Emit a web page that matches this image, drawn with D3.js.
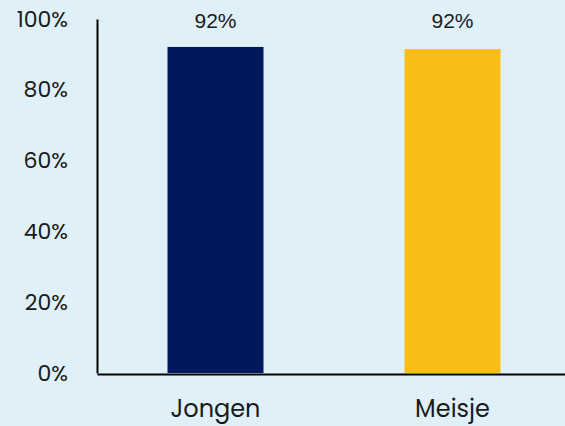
<!DOCTYPE html>
<html><head><meta charset="utf-8">
<script src="https://cdn.jsdelivr.net/npm/d3@7"></script>
<style>html,body{margin:0;padding:0;background:#e0f0f8;}svg{display:block;}</style>
</head><body>
<script>
const categories = ["Jongen", "Meisje"];
const values = [92.1, 91.5];
const valueLabels = ["92%", "92%"];
const yTicks = [0, 20, 40, 60, 80, 100];
const colors = ["#02185e", "#f9bd18"];

const W = 565, H = 426;
const svg = d3.select("body").append("svg").attr("width", W).attr("height", H);
svg.append("rect").attr("width", W).attr("height", H).attr("fill", "#e0f0f8");

const y = d3.scaleLinear().domain([0, 100]).range([373, 19]);
const x = d3.scaleBand().domain(categories).range([97, 571]).paddingInner(0.595).paddingOuter(0.2975);
const font = "Poppins, 'Open Sans', sans-serif";

svg.selectAll(".bar").data(categories).enter().append("rect")
  .attr("x", d => x(d)).attr("width", x.bandwidth())
  .attr("y", (d, i) => y(values[i])).attr("height", (d, i) => y(0) - y(values[i]))
  .attr("fill", (d, i) => colors[i]);

// y axis
const ya = svg.append("g").attr("transform", "translate(97,0)")
  .call(d3.axisLeft(y).tickValues(yTicks).tickFormat(d => d + "%").tickSize(0).tickPadding(29));
ya.select(".domain").attr("stroke", "#000").attr("stroke-width", 2);
ya.selectAll("text").attr("font-family", font).attr("font-size", 22).attr("fill", "#1a1a1a");

// x axis
const xa = svg.append("g").attr("transform", "translate(0,374)")
  .call(d3.axisBottom(x).tickSize(0).tickPadding(26));
xa.select(".domain").attr("stroke", "#000").attr("stroke-width", 2);
xa.selectAll("text").attr("font-family", font).attr("font-size", 24).attr("fill", "#1a1a1a");

svg.selectAll(".lbl").data(categories).enter().append("text")
  .attr("x", d => x(d) + x.bandwidth() / 2).attr("y", 28)
  .attr("text-anchor", "middle")
  .attr("font-family", "'Liberation Sans', Arial, sans-serif")
  .attr("font-size", 21).attr("fill", "#1a1a1a")
  .text((d, i) => valueLabels[i]);
</script>
</body></html>
